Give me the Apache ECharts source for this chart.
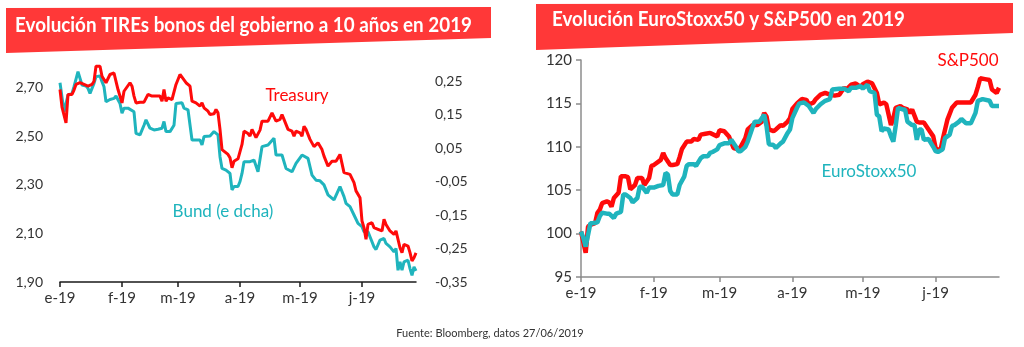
<!DOCTYPE html>
<html>
<head>
<meta charset="utf-8">
<script src="https://cdn.jsdelivr.net/npm/echarts@6/dist/echarts.min.js"></script>
<style>
html,body{margin:0;padding:0;background:#fff;}
#c{width:1024px;height:347px;}
</style>
</head>
<body>
<div id="c"></div>
<script>
const monthLabels = ['e-19','f-19','m-19','a-19','m-19','j-19'];
const titleLeft = 'Evolución TIREs bonos del gobierno a 10 años en 2019';
const titleRight = 'Evolución EuroStoxx50 y S&P500 en 2019';
const source = 'Fuente: Bloomberg, datos 27/06/2019';

// Treasury 10Y yield (%), left axis
const treasury = [
['1/1',2.692],['1/2',2.62],['1/4',2.555],['1/5',2.672],['1/7',2.672],['1/8',2.69],['1/9',2.713],['1/11',2.72],['1/12',2.72],['1/15',2.706],['1/17',2.713],['1/18',2.726],['1/19',2.788],['1/21',2.788],['1/22',2.747],['1/23',2.74],['1/24',2.72],['1/26',2.754],['1/28',2.76],['1/29',2.726],['1/30',2.692],
['2/1',2.637],['2/2',2.685],['2/3',2.678],['2/5',2.72],['2/6',2.706],['2/7',2.665],['2/8',2.637],['2/10',2.64],['2/12',2.64],['2/13',2.64],['2/14',2.672],['2/16',2.665],['2/18',2.665],['2/20',2.665],['2/21',2.644],['2/22',2.692],['2/23',2.644],['2/24',2.658],['2/26',2.651],['2/27',2.644],['2/28',2.713],
['3/2',2.754],['3/3',2.747],['3/5',2.72],['3/7',2.706],['3/8',2.644],['3/10',2.637],['3/12',2.624],['3/13',2.637],['3/14',2.617],['3/16',2.603],['3/17',2.589],['3/19',2.592],['3/20',2.61],['3/21',2.596],['3/22',2.528],['3/23',2.445],['3/24',2.443],['3/26',2.425],['3/27',2.411],['3/28',2.37],['3/29',2.397],['3/31',2.407],
['4/1',2.407],['4/2',2.466],['4/3',2.521],['4/5',2.511],['4/6',2.5],['4/7',2.528],['4/9',2.494],['4/11',2.525],['4/12',2.562],['4/15',2.562],['4/17',2.596],['4/18',2.596],['4/19',2.562],['4/21',2.569],['4/22',2.589],['4/23',2.569],['4/25',2.528],['4/27',2.521],['4/28',2.5],['4/29',2.521],
['5/1',2.514],['5/2',2.5],['5/3',2.541],['5/4',2.528],['5/6',2.487],['5/7',2.48],['5/8',2.457],['5/10',2.473],['5/12',2.445],['5/13',2.418],['5/15',2.377],['5/17',2.397],['5/19',2.397],['5/21',2.425],['5/23',2.35],['5/24',2.343],['5/26',2.343],['5/28',2.309],['5/29',2.275],['5/31',2.247],
['6/1',2.151],['6/2',2.124],['6/3',2.076],['6/4',2.137],['6/6',2.144],['6/7',2.124],['6/9',2.117],['6/11',2.11],['6/12',2.158],['6/13',2.137],['6/15',2.11],['6/17',2.096],['6/18',2.11],['6/20',2.041],['6/21',2.021],['6/22',2.055],['6/24',2.048],['6/25',2.021],['6/26',1.987],['6/27',2.0],['6/28',2.02]
];

// Bund 10Y yield (%), right axis
const bund = [
['1/1',0.245],['1/3',0.158],['1/5',0.208],['1/7',0.213],['1/8',0.233],['1/10',0.278],['1/12',0.238],['1/14',0.235],['1/15',0.228],['1/16',0.213],['1/18',0.243],['1/19',0.263],['1/21',0.265],['1/22',0.248],['1/23',0.233],['1/24',0.188],['1/26',0.195],['1/28',0.198],['1/29',0.205],['1/31',0.183],
['2/1',0.154],['2/2',0.169],['2/4',0.169],['2/5',0.174],['2/7',0.158],['2/8',0.094],['2/10',0.089],['2/12',0.118],['2/13',0.134],['2/15',0.109],['2/17',0.104],['2/19',0.106],['2/21',0.109],['2/22',0.129],['2/23',0.099],['2/25',0.099],['2/27',0.118],['2/28',0.183],
['3/3',0.185],['3/4',0.169],['3/6',0.164],['3/8',0.074],['3/10',0.074],['3/12',0.074],['3/13',0.059],['3/14',0.084],['3/17',0.086],['3/19',0.099],['3/21',0.089],['3/22',0.024],['3/23',-0.011],['3/25',-0.016],['3/27',-0.026],['3/28',-0.075],['3/29',-0.065],['3/31',-0.065],
['4/1',-0.05],['4/2',-0.026],['4/3',0.009],['4/6',0.009],['4/8',0.014],['4/10',-0.021],['4/12',0.054],['4/15',0.059],['4/18',0.079],['4/19',0.029],['4/22',0.029],['4/24',-0.011],['4/27',-0.021],['4/29',0.004],
['5/2',0.029],['5/3',0.026],['5/5',0.019],['5/7',-0.031],['5/9',-0.046],['5/11',-0.048],['5/13',-0.06],['5/15',-0.09],['5/18',-0.105],['5/19',-0.103],['5/21',-0.065],['5/23',-0.095],['5/24',-0.115],['5/26',-0.125],['5/28',-0.15],['5/30',-0.175],
['6/1',-0.185],['6/2',-0.2],['6/4',-0.2],['6/5',-0.215],['6/7',-0.245],['6/8',-0.253],['6/10',-0.225],['6/12',-0.22],['6/13',-0.235],['6/15',-0.245],['6/17',-0.26],['6/18',-0.25],['6/19',-0.315],['6/20',-0.29],['6/21',-0.315],['6/22',-0.29],['6/24',-0.285],['6/25',-0.31],['6/26',-0.33],['6/27',-0.305],['6/28',-0.317]
];

// S&P500 (base 100)
const sp500 = [
['1/1',100.25],['1/3',97.8],['1/4',100.8],['1/5',101.0],['1/7',101.2],['1/8',102.4],['1/9',102.75],['1/10',103.5],['1/12',103.7],['1/13',103.6],['1/14',103.1],['1/15',104.1],['1/17',104.7],['1/18',106.6],['1/20',106.6],['1/21',106.5],['1/22',105.1],['1/24',105.6],['1/25',106.4],['1/27',106.4],['1/28',105.6],['1/30',106.4],['1/31',107.8],
['2/1',107.9],['2/4',108.5],['2/5',109.3],['2/6',108.7],['2/8',107.9],['2/9',107.9],['2/11',108.0],['2/12',108.8],['2/13',109.75],['2/15',110.6],['2/17',110.6],['2/18',110.9],['2/20',110.8],['2/21',111.4],['2/23',111.5],['2/25',111.6],['2/28',111.2],
['3/1',111.9],['3/3',111.8],['3/5',111.2],['3/6',110.5],['3/7',109.86],['3/9',109.7],['3/10',110.0],['3/12',111.0],['3/13',112.0],['3/15',112.5],['3/17',112.5],['3/19',112.9],['3/20',113.9],['3/21',113.5],['3/22',112.0],['3/24',111.8],['3/25',112.0],['3/27',112.5],['3/28',112.4],['3/30',112.9],['3/31',113.3],
['4/1',114.35],['4/3',115.0],['4/5',115.5],['4/7',115.4],['4/8',114.9],['4/10',115.1],['4/11',115.5],['4/13',116.0],['4/15',116.2],['4/17',116.0],['4/19',115.9],['4/21',116.0],['4/23',116.8],['4/24',116.6],['4/26',117.15],['4/28',117.3],['4/30',116.9],
['5/1',117.2],['5/3',117.5],['5/5',117.3],['5/7',116.2],['5/8',114.9],['5/10',115.1],['5/11',114.9],['5/13',112.5],['5/14',113.3],['5/15',114.5],['5/17',114.7],['5/18',114.5],['5/20',114.3],['5/21',113.9],['5/22',114.3],['5/24',112.9],['5/25',112.8],['5/27',112.8],['5/29',112.0],['5/31',111.2],
['6/1',109.86],['6/3',109.5],['6/4',110.8],['6/6',113.1],['6/8',114.5],['6/10',115.1],['6/12',115.1],['6/14',115.1],['6/16',115.1],['6/18',116.0],['6/19',116.9],['6/20',117.9],['6/22',117.8],['6/24',117.7],['6/25',116.6],['6/27',116.2],['6/28',116.8]
];

// EuroStoxx50 (base 100)
const eurostoxx = [
['1/1',100.25],['1/2',99.5],['1/3',98.5],['1/5',101.2],['1/6',101.2],['1/8',101.3],['1/9',102.0],['1/10',102.4],['1/12',102.3],['1/13',102.3],['1/15',101.8],['1/16',102.3],['1/18',102.5],['1/19',104.5],['1/20',104.5],['1/22',104.1],['1/23',103.6],['1/25',104.1],['1/26',105.4],['1/27',105.4],['1/29',104.7],['1/30',105.3],
['2/1',105.3],['2/3',105.5],['2/5',105.6],['2/6',107.0],['2/7',106.8],['2/8',104.9],['2/9',104.5],['2/11',104.5],['2/12',105.6],['2/14',106.6],['2/15',107.8],['2/16',108.0],['2/18',108.0],['2/19',107.8],['2/21',108.7],['2/22',108.9],['2/24',108.9],['2/25',109.3],['2/26',109.4],['2/28',109.7],
['3/1',110.2],['3/3',110.4],['3/5',110.4],['3/6',110.8],['3/8',110.0],['3/9',109.5],['3/10',109.5],['3/12',110.0],['3/13',110.6],['3/15',112.2],['3/16',112.9],['3/18',112.9],['3/19',113.3],['3/20',113.7],['3/21',112.4],['3/22',110.3],['3/24',110.2],['3/25',109.86],['3/27',110.4],['3/28',110.6],['3/30',111.6],['3/31',112.0],
['4/1',113.3],['4/3',114.5],['4/4',115.0],['4/6',115.1],['4/7',114.9],['4/8',114.7],['4/10',113.9],['4/11',114.35],['4/13',114.9],['4/15',115.3],['4/17',115.5],['4/18',116.6],['4/21',116.7],['4/23',116.7],['4/25',116.4],['4/26',116.8],['4/28',116.8],['4/30',117.0],
['5/1',116.7],['5/3',117.15],['5/4',116.4],['5/6',116.2],['5/7',113.7],['5/8',113.5],['5/9',111.8],['5/10',112.1],['5/12',112.0],['5/13',111.2],['5/14',110.6],['5/15',112.4],['5/16',114.5],['5/18',114.3],['5/19',114.3],['5/20',112.9],['5/22',112.5],['5/23',112.5],['5/24',110.8],['5/25',112.0],['5/26',112.0],['5/27',110.8],['5/29',110.9],['5/31',110.0],
['6/1',109.5],['6/2',109.4],['6/4',109.7],['6/5',111.0],['6/7',111.4],['6/8',112.4],['6/9',112.5],['6/11',112.9],['6/12',113.2],['6/14',112.7],['6/16',112.7],['6/18',113.9],['6/19',115.3],['6/21',115.5],['6/24',115.3],['6/25',114.7],['6/27',114.7],['6/28',114.7]
];

// daily category axis 1 Jan - 28 Jun 2019
const days = [];
(function(){
  const d = new Date(2019, 0, 1);
  const end = new Date(2019, 5, 28);
  while (d <= end) { days.push((d.getMonth()+1) + '/' + d.getDate()); d.setDate(d.getDate()+1); }
})();

const RED = '#FF0A0A';
const TEAL = '#1FB4BD';
const FONT = 'Lato';

function isMonthStart(idx, val){ return String(val).split('/')[1] === '1'; }
function monthLabel(val){ const m = +String(val).split('/')[0]; return monthLabels[m-1] || ''; }
function comma(v){ return v.toFixed(2).replace('.', ','); }

function fitText(text, font, target){
  const c = document.createElement('canvas').getContext('2d');
  c.font = font; const w = c.measureText(text).width;
  return target / w;
}

const chart = echarts.init(document.getElementById('c'), null, {renderer:'canvas'});

const tFont = 'bold 20px ' + FONT;
const sxL = fitText(titleLeft, tFont, 457);
const sxR = fitText(titleRight, tFont, 353);

const option = {
  animation: false,
  backgroundColor: '#fff',
  textStyle: { fontFamily: FONT },
  grid: [
    { left: 60, right: 608, top: 47, bottom: 65, containLabel: false },
    { left: 581, right: 25, top: 60, bottom: 70, containLabel: false }
  ],
  xAxis: [
    { type:'category', gridIndex:0, data: days, boundaryGap:false,
      axisLine:{ show:true, onZero:false, lineStyle:{ color:'#1a1a1a', width:1.5 } },
      axisTick:{ show:true, interval:isMonthStart, length:5, lineStyle:{ color:'#1a1a1a', width:1.5 } },
      axisLabel:{ interval:isMonthStart, formatter:monthLabel, color:'#333', fontSize:15, margin:9, fontFamily:FONT },
      splitLine:{show:false} },
    { type:'category', gridIndex:1, data: days, boundaryGap:false,
      axisLine:{ show:true, onZero:false, lineStyle:{ color:'#8c8c8c', width:1.5 } },
      axisTick:{ show:true, interval:isMonthStart, length:5, lineStyle:{ color:'#8c8c8c', width:1.5 } },
      axisLabel:{ interval:isMonthStart, formatter:monthLabel, color:'#333', fontSize:15, margin:9, fontFamily:FONT },
      splitLine:{show:false} }
  ],
  yAxis: [
    { type:'value', gridIndex:0, position:'left', min:1.9, max:1.9+235/243, interval:0.2,
      axisLine:{show:false}, axisTick:{show:false}, splitLine:{show:false},
      axisLabel:{ color:'#333', fontSize:14, margin:17, fontFamily:FONT, showMaxLabel:false,
        formatter: v => v > 2.75 ? '' : comma(v) } },
    { type:'value', gridIndex:0, position:'right', min:-0.35, max:-0.35+235/335, interval:0.1,
      axisLine:{show:false}, axisTick:{show:false}, splitLine:{show:false},
      axisLabel:{ color:'#333', fontSize:14, margin:19, fontFamily:FONT, showMaxLabel:false,
        formatter: v => v > 0.3 ? '' : comma(v) } },
    { type:'value', gridIndex:1, min:95, max:120, interval:5,
      axisLine:{ show:true, lineStyle:{ color:'#8c8c8c', width:1.5 } },
      axisTick:{ show:true, length:5, lineStyle:{ color:'#8c8c8c', width:1.5 } },
      splitLine:{show:false},
      axisLabel:{ color:'#333', fontSize:15, margin:9, fontFamily:FONT } }
  ],
  series: [
    { name:'Bund (e dcha)', type:'line', xAxisIndex:0, yAxisIndex:1, data:bund, showSymbol:false,
      lineStyle:{ color:TEAL, width:3 }, itemStyle:{color:TEAL} },
    { name:'Treasury', type:'line', xAxisIndex:0, yAxisIndex:0, data:treasury, showSymbol:false,
      lineStyle:{ color:RED, width:3 }, itemStyle:{color:RED} },
    { name:'S&P500', type:'line', xAxisIndex:1, yAxisIndex:2, data:sp500, showSymbol:false,
      lineStyle:{ color:RED, width:4.5 }, itemStyle:{color:RED} },
    { name:'EuroStoxx50', type:'line', xAxisIndex:1, yAxisIndex:2, data:eurostoxx, showSymbol:false,
      lineStyle:{ color:TEAL, width:4.5 }, itemStyle:{color:TEAL} }
  ],
  graphic: [
    { type:'polygon', z:0, shape:{ points:[[6,8],[491,7],[491,38],[6,53]] }, style:{ fill:'#FF3838' } },
    { type:'polygon', z:0, shape:{ points:[[536,4],[1013,3],[1013,33],[536,50]] }, style:{ fill:'#FF3838' } },
    { type:'text', z:1, x:15, y:26, scaleX:sxL, originX:0, originY:0,
      style:{ text:titleLeft, font:tFont, fill:'#fff', textAlign:'left', textVerticalAlign:'middle', align:'left', verticalAlign:'middle' } },
    { type:'text', z:1, x:552, y:20, scaleX:sxR, originX:0, originY:0,
      style:{ text:titleRight, font:tFont, fill:'#fff', textAlign:'left', textVerticalAlign:'middle', align:'left', verticalAlign:'middle' } },
    { type:'text', x:297, y:96, style:{ text:'Treasury', font:'17px '+FONT, fill:RED, textAlign:'center', textVerticalAlign:'middle', align:'center', verticalAlign:'middle' } },
    { type:'text', x:223, y:212, style:{ text:'Bund (e dcha)', font:'17px '+FONT, fill:TEAL, textAlign:'center', textVerticalAlign:'middle', align:'center', verticalAlign:'middle' } },
    { type:'text', x:968, y:61, style:{ text:'S&P500', font:'17px '+FONT, fill:RED, textAlign:'center', textVerticalAlign:'middle', align:'center', verticalAlign:'middle' } },
    { type:'text', x:869, y:172, style:{ text:'EuroStoxx50', font:'17px '+FONT, fill:TEAL, textAlign:'center', textVerticalAlign:'middle', align:'center', verticalAlign:'middle' } },
    { type:'text', x:490, y:333, style:{ text:source, font:'11px '+FONT, fill:'#333', textAlign:'center', textVerticalAlign:'middle', align:'center', verticalAlign:'middle' } }
  ]
};
chart.setOption(option);
</script>
</body>
</html>
